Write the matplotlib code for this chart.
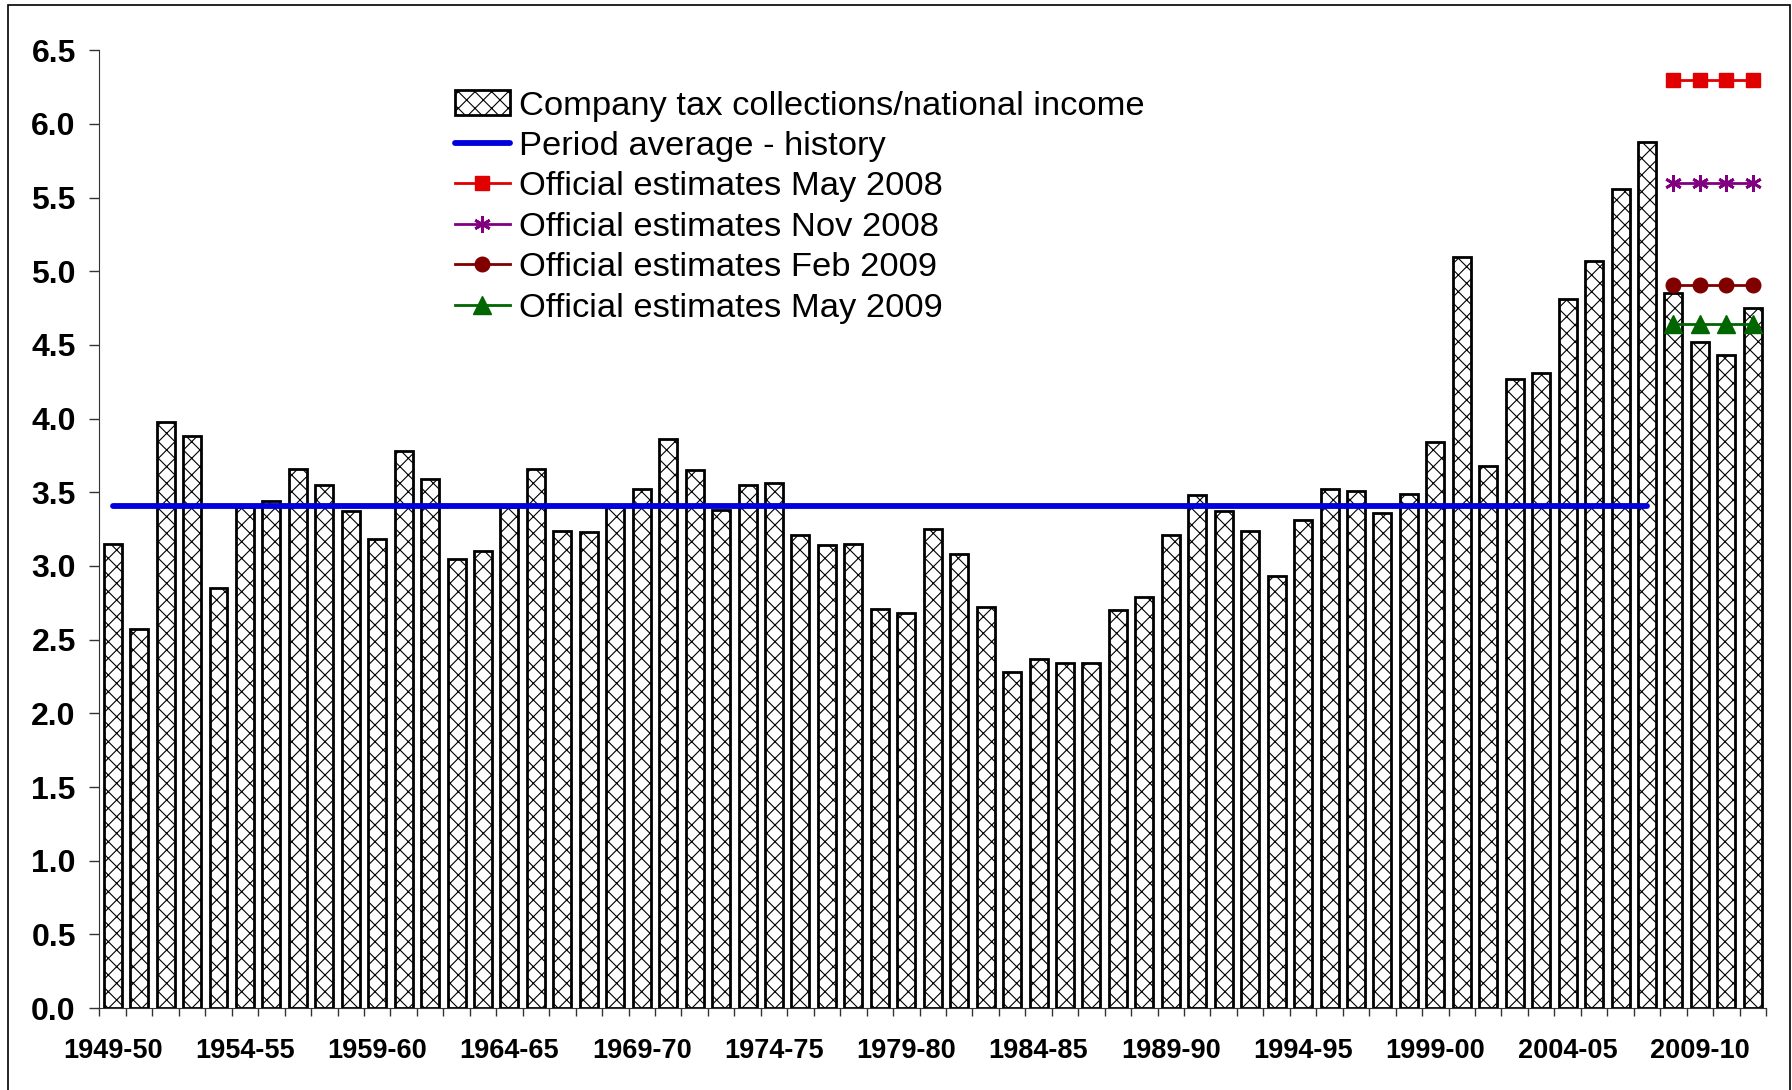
import numpy as np
import matplotlib.pyplot as plt
from matplotlib.patches import Rectangle

# === DATA ===
years = [f"{y}-{str(y + 1)[-2:]}" for y in range(1949, 2012)]

tax_ratio = [3.15, 2.57, 3.98, 3.88, 2.85, 3.40, 3.44, 3.66, 3.55, 3.37,
             3.18, 3.78, 3.59, 3.05, 3.10, 3.40, 3.66, 3.24, 3.23, 3.40,
             3.52, 3.86, 3.65, 3.38, 3.55, 3.56, 3.21, 3.14, 3.15, 2.71,
             2.68, 3.25, 3.08, 2.72, 2.28, 2.37, 2.34, 2.34, 2.70, 2.79,
             3.21, 3.48, 3.37, 3.24, 2.93, 3.31, 3.52, 3.51, 3.36, 3.49,
             3.84, 5.10, 3.68, 4.27, 4.31, 4.81, 5.07, 5.56, 5.88, 4.85,
             4.52, 4.43, 4.75]

history_avg = 3.41
n_history = 59  # 1949-50 .. 2007-08

est_may08 = [6.30, 6.30, 6.30, 6.30]
est_nov08 = [5.60, 5.60, 5.60, 5.60]
est_feb09 = [4.91, 4.91, 4.91, 4.91]
est_may09 = [4.64, 4.64, 4.64, 4.64]

# === PLOT ===
plt.rcParams['font.family'] = ['Liberation Sans', 'DejaVu Sans']
plt.rcParams['hatch.color'] = '#606060'
plt.rcParams['hatch.linewidth'] = 0.8

fig = plt.figure(figsize=(17.92, 10.9), dpi=100)
ax = fig.add_axes([0.0555, 0.0752, 0.93, 0.8787])

x = np.arange(len(years))
bars = ax.bar(x, tax_ratio, width=0.68, color='white', edgecolor='black',
              linewidth=2.0, hatch='xx', label='Company tax collections/national income')

avg_line, = ax.plot(x[:n_history], [history_avg] * n_history, color='#0000DD', linewidth=4.2,
                    solid_capstyle='round', label='Period average - history')

xe = x[-4:]
l1, = ax.plot(xe, est_may08, color='#E00000', linewidth=2, marker='s', markersize=10,
              label='Official estimates May 2008')
l2, = ax.plot(xe, est_nov08, color='#800080', linewidth=2, marker=(6, 2, 0), markersize=12,
              markeredgewidth=2, label='Official estimates Nov 2008')
l3, = ax.plot(xe, est_feb09, color='#800000', linewidth=2, marker='o', markersize=10.5,
              label='Official estimates Feb 2009')
l4, = ax.plot(xe, est_may09, color='#006600', linewidth=2, marker='^', markersize=13.5,
              label='Official estimates May 2009')

# axes
ax.set_xlim(-0.5, len(years) - 0.5)
ax.set_ylim(0, 6.5)
ax.set_yticks(np.arange(0, 6.51, 0.5))
ax.set_yticklabels([f"{v:.1f}" for v in np.arange(0, 6.51, 0.5)],
                   fontsize=23, fontweight='bold')
ax.set_xticks(x[::5])
ax.set_xticklabels(years[::5], fontsize=19.5, fontweight='bold')
ax.set_xticks(np.arange(-0.5, len(years), 1), minor=True)
ax.tick_params(axis='x', which='major', length=0, pad=21.5)
ax.tick_params(axis='x', which='minor', length=6, width=1, direction='out', color='#333333')
ax.tick_params(axis='y', length=7, width=1, direction='out', pad=10, color='#333333')

ax.spines['top'].set_visible(False)
ax.spines['right'].set_visible(False)
ax.spines['left'].set_color('#333333')
ax.spines['bottom'].set_color('#333333')

handles = [bars, avg_line, l1, l2, l3, l4]
ax.legend(handles, [h.get_label() for h in handles],
          loc='upper left', bbox_to_anchor=(0.2133, 0.958), frameon=False,
          fontsize=24.8, handlelength=1.6, handletextpad=0.26,
          labelspacing=0.27, borderaxespad=0, borderpad=0)

# outer frame around the chart
fig.patches.append(Rectangle((7.5 / 1792, -0.01), (1790 - 7.5) / 1792, 1.0 - 5 / 1090 + 0.01,
                             transform=fig.transFigure, fill=False,
                             edgecolor='black', linewidth=1.2))

fig.savefig('out.png', dpi=100)
